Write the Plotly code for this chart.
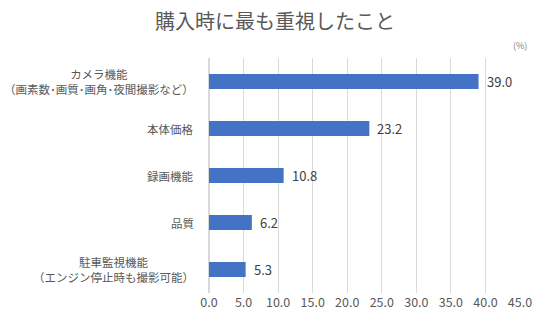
import plotly.graph_objects as go

categories = [
    "カメラ機能<br>（画素数･画質･画角･夜間撮影など）",
    "本体価格",
    "録画機能",
    "品質",
    "駐車監視機能<br>（エンジン停止時も撮影可能）",
]
values = [39.0, 23.2, 10.8, 6.2, 5.3]
tick_vals = [0, 5, 10, 15, 20, 25, 30, 35, 40, 45]
tick_text = ["0.0", "5.0", "10.0", "15.0", "20.0", "25.0", "30.0", "35.0", "40.0", "45.0"]

FONT = "Noto Sans CJK JP"

fig = go.Figure(go.Bar(
    x=values,
    y=categories,
    orientation="h",
    marker=dict(color="#4472C4", line=dict(width=0)),
    cliponaxis=False,
))

annotations = [dict(text="(%)", xref="paper", yref="paper", x=1.0, y=1.0,
                    xanchor="center", yanchor="bottom", yshift=4, showarrow=False,
                    font=dict(size=9, color="#7f7f7f", family=FONT))]
for c in categories:
    annotations.append(dict(text=c, xref="paper", yref="y", x=0, y=c,
                            xanchor="right", yanchor="middle", xshift=-13,
                            align="center", showarrow=False,
                            font=dict(size=11.5, color="#595959", family=FONT)))
for c, v in zip(categories, values):
    annotations.append(dict(text=f"{v:.1f}", xref="x", yref="y", x=v, y=c,
                            xanchor="left", yanchor="middle", xshift=6,
                            showarrow=False,
                            font=dict(size=13, color="#404040", family=FONT)))

fig.update_layout(
    width=550, height=334,
    margin=dict(l=209, r=30, t=58, b=41),
    paper_bgcolor="white", plot_bgcolor="white",
    font=dict(family=FONT, color="#595959"),
    title=dict(text="購入時に最も重視したこと", x=0.5, xanchor="center",
               y=0.935, yanchor="middle",
               font=dict(size=20, color="#595959", family=FONT)),
    bargap=0.68,
    showlegend=False,
    annotations=annotations,
)
fig.update_xaxes(range=[0, 45], tickvals=tick_vals, ticktext=tick_text,
                 showgrid=True, gridcolor="#d9d9d9", gridwidth=1,
                 zeroline=True, zerolinecolor="#d9d9d9",
                 tickfont=dict(size=12.5, color="#595959"), ticks="", ticklen=0,
                 fixedrange=True)
fig.update_yaxes(autorange="reversed", showticklabels=False,
                 ticks="", showgrid=False, fixedrange=True)

fig.write_html("out.html")
